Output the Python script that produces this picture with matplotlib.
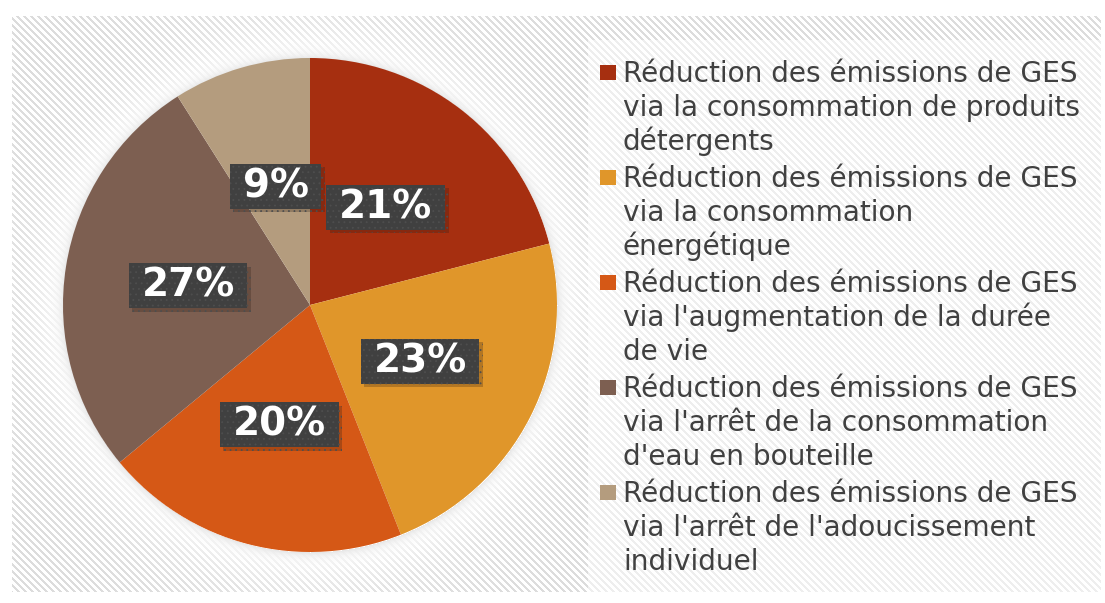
import numpy as np
import matplotlib
matplotlib.use("Agg")
import matplotlib.pyplot as plt
import matplotlib.patheffects as pe
from matplotlib.patches import Rectangle
from matplotlib.path import Path


# ==================================================
# data
# ==================================================

labels = [
    "Réduction des émissions de GES\nvia la consommation de produits\ndétergents",
    "Réduction des émissions de GES\nvia la consommation\nénergétique",
    "Réduction des émissions de GES\nvia l'augmentation de la durée\nde vie",
    "Réduction des émissions de GES\nvia l'arrêt de la consommation\nd'eau en bouteille",
    "Réduction des émissions de GES\nvia l'arrêt de l'adoucissement\nindividuel",
]

shares = [21, 23, 20, 27, 9]

colors = ["#A62F10", "#E0962A", "#D55816", "#7D5F51", "#B49C7E"]


# ==================================================
# helper: label box, wider than tall
# ==================================================

def wide_box(x0, y0, width, height, mutation_size):
    px = 0.33 * mutation_size
    py = 0.09 * mutation_size
    x1, y1 = x0 + width + px, y0 + height + py
    x0, y0 = x0 - px, y0 - py
    return Path([(x0, y0), (x1, y0), (x1, y1), (x0, y1), (x0, y0)],
                closed=True)


# ==================================================
# figure
# ==================================================

W, H = 1105, 603
fig = plt.figure(figsize=(W / 100, H / 100), dpi=100)
plt.rcParams["hatch.linewidth"] = 0.6

# pie geometry in pixels (from top-left)
cx, cy, r = 310, 305, 247

# background: diagonal stripes with a soft halo round the pie
bg = fig.add_axes([0, 0, 1, 1])
yy, xx = np.mgrid[0:H, 0:W]
stripe = ((xx - yy) % 7) < 3
img = np.where(stripe, 0.86, 1.0)

inside = (xx >= 12) & (xx < 1101) & (yy >= 16) & (yy < 592)
img = np.where(inside, img, 1.0)

d = np.hypot(xx - cx, yy - cy) - r
halo = np.exp(-np.clip(d, 0, None) / 30.0)
img = img + (1.0 - img) * halo
shadow = np.where(d > 0, 0.10 * np.exp(-d / 5.0), 0)
img = img - shadow

legbox = (xx >= 588) & (xx < 1101) & (yy >= 40) & (yy < 592)
img = np.where(legbox, img + (1.0 - img) * 0.5, img)

bg.imshow(img, cmap="gray", vmin=0, vmax=1, extent=(0, W, H, 0),
          interpolation="nearest", aspect="auto")
bg.set_xlim(0, W)
bg.set_ylim(H, 0)
bg.axis("off")


# ==================================================
# pie
# ==================================================

ax = fig.add_axes([(cx - r) / W, (H - cy - r) / H, 2 * r / W, 2 * r / H])

wedges, _, pcts = ax.pie(
    shares,
    colors=colors,
    startangle=90,
    counterclock=False,
    autopct="%d%%",
    pctdistance=0.5,
    wedgeprops=dict(linewidth=0),
)
ax.set_xlim(-1, 1)
ax.set_ylim(-1, 1)
ax.set_aspect("equal")

for t in pcts:
    t.set_color("white")
    t.set_fontsize(28)
    t.set_fontweight("bold")
    t.set_bbox(dict(boxstyle=wide_box, facecolor="#404040",
                    edgecolor="#4e4e4e", linewidth=0, hatch="..."))
    t.get_bbox_patch().set_path_effects([
        pe.SimplePatchShadow(offset=(2.5, -2.5), alpha=0.25,
                             shadow_rgbFace="#2a1a10"),
        pe.Normal(),
    ])


# ==================================================
# legend (drawn by hand so the marker sits on the first line)
# ==================================================

y0 = 82
entry_step = 105
line_step = 33.8

for i, (lab, col) in enumerate(zip(labels, colors)):
    yb = y0 + i * entry_step
    bg.add_patch(Rectangle((600, yb - 17), 16, 15, facecolor=col,
                           edgecolor="none"))
    for k, line in enumerate(lab.split("\n")):
        bg.text(623, yb + k * line_step, line, fontsize=20.2,
                color="#404040", va="baseline", ha="left")


fig.savefig("out.png", dpi=100)
